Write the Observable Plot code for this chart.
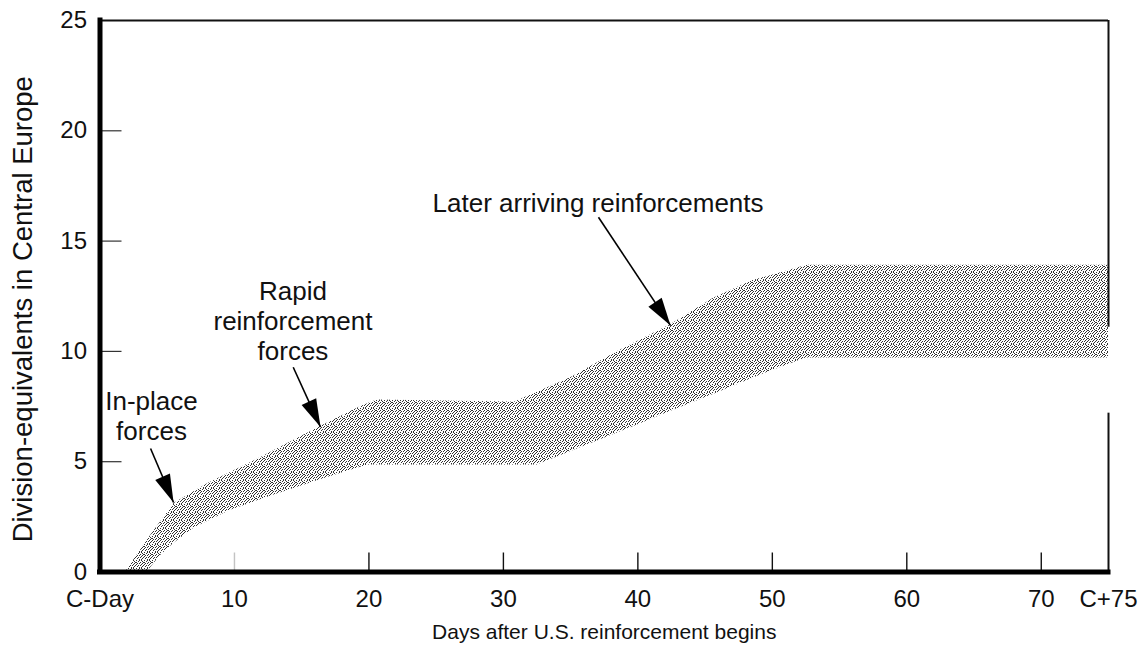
<!DOCTYPE html>
<html>
<head>
<meta charset="utf-8">
<script src="https://cdn.jsdelivr.net/npm/d3@7"></script>
<script src="https://cdn.jsdelivr.net/npm/@observablehq/plot@0.6"></script>
<style>
  html, body { margin: 0; padding: 0; background: #fff; }
  #chart { width: 1148px; height: 658px; }
</style>
</head>
<body>
<div id="chart"></div>
<script>
// ---------- data ----------
const xTickValues = [0, 10, 20, 30, 40, 50, 60, 70, 75];
const xTickLabels = ["C-Day", "10", "20", "30", "40", "50", "60", "70", "C+75"];
const yTickValues = [0, 5, 10, 15, 20, 25];

// upper edge of the force band (day, division-equivalents)
const upperDay = [1.9, 3.7, 5.5, 8, 12, 16.4, 19.4, 20.6, 30.8, 35, 38.5, 42.4, 45.6, 48.5, 52.6, 75];
const upperDiv = [0, 1.6, 3.1, 4.0, 5.2, 6.6, 7.5, 7.8, 7.7, 8.8, 10.0, 11.2, 12.4, 13.2, 13.9, 13.9];
// lower edge of the force band
const lowerDay = [3.5, 4.5, 5.5, 7, 9.7, 13, 16.5, 19.9, 32.5, 36, 39.5, 42.5, 45.6, 49, 52.5, 75];
const lowerDiv = [0, 0.75, 1.3, 2.0, 2.8, 3.5, 4.2, 4.85, 4.85, 5.7, 6.55, 7.3, 8.05, 8.9, 9.7, 9.7];

const annotationText = ["In-place\nforces", "Rapid\nreinforcement\nforces", "Later arriving reinforcements"];
const annotationDay = [3.83, 14.35, 37.04];
const annotationDiv = [7.1, 11.4, 16.76];

const arrowFromDay = [3.76, 14.37, 37.07];
const arrowFromDiv = [5.60, 9.28, 16.08];
const arrowToDay = [5.47, 16.40, 42.43];
const arrowToDiv = [3.15, 6.57, 11.17];

const xTitle = "Days after U.S. reinforcement begins";
const yTitle = "Division-equivalents in Central Europe";

// ---------- layout ----------
const W = 1148, H = 658;
const ML = 99.5, MR = 40, MT = 20, MB = 86.5;
const FONT = "'Liberation Sans', Arial, Helvetica, sans-serif";

const xs = Plot.scale({x: {domain: [0, 75], range: [ML, W - MR]}});
const ys = Plot.scale({y: {domain: [0, 25], range: [H - MB, MT]}});
const tickLenX = xs.invert(ML + 22);
const tickLenY = ys.invert(H - MB - 19);

const bandIdx = upperDay.map((_, i) => i);
const arrowIdx = arrowFromDay.map((_, i) => i);
const annIdx = annotationText.map((_, i) => i);

function headSymbol(i) {
  const dx = xs.apply(arrowToDay[i]) - xs.apply(arrowFromDay[i]);
  const dy = ys.apply(arrowToDiv[i]) - ys.apply(arrowFromDiv[i]);
  const len = Math.hypot(dx, dy);
  const ux = dx / len, uy = dy / len;
  const L = 28, hw = 8;
  return {
    draw(ctx) {
      const bx = -L * ux, by = -L * uy;
      ctx.moveTo(0, 0);
      ctx.lineTo(bx - hw * uy, by + hw * ux);
      ctx.lineTo(bx + hw * uy, by - hw * ux);
      ctx.closePath();
    }
  };
}

const marks = [
  Plot.area(bandIdx, {
    x1: i => lowerDay[i], y1: i => lowerDiv[i],
    x2: i => upperDay[i], y2: i => upperDiv[i],
    fill: "url(#stipple)", stroke: "none"
  }),
  // inward ticks
  Plot.ruleY(yTickValues.filter(v => v > 0 && v < 25), {x1: 0, x2: tickLenX, stroke: "#333", strokeWidth: 1.2}),
  Plot.ruleX(xTickValues.filter(v => v > 0 && v < 75), {
    y1: 0, y2: tickLenY, stroke: "#111", strokeWidth: 1.4,
    strokeOpacity: d => d === 10 ? 0.25 : 1
  }),
  // frame
  Plot.ruleY([25], {x1: 0, x2: 75, stroke: "#111", strokeWidth: 2}),
  Plot.ruleX([75], {y1: 11.1, y2: 25, stroke: "#111", strokeWidth: 2}),
  Plot.ruleX([75], {y1: 0, y2: 7.2, stroke: "#111", strokeWidth: 2}),
  Plot.ruleX([0], {y1: 0, y2: 25, stroke: "#000", strokeWidth: 5, strokeLinecap: "square"}),
  Plot.ruleY([0], {x1: 0, x2: 75, stroke: "#000", strokeWidth: 5, strokeLinecap: "square"}),
  // tick labels
  Plot.text(xTickValues, {x: d => d, y: 0, dy: 27, text: (d, i) => xTickLabels[i], fontSize: 24, fill: "#111"}),
  Plot.text(yTickValues, {x: 0, y: d => d, dx: -13, textAnchor: "end", text: d => String(d), fontSize: 24, fill: "#111"}),
  // titles
  Plot.text([xTitle], {frameAnchor: "bottom", lineAnchor: "middle", textAnchor: "middle", dy: 60.5, text: d => d, fontSize: 21, fill: "#111"}),
  Plot.text([yTitle], {frameAnchor: "left", lineAnchor: "middle", textAnchor: "middle", rotate: -90, dx: -76.5, dy: 13, text: d => d, fontSize: 27.5, fill: "#111"}),
  // annotations
  Plot.text(annIdx, {x: i => annotationDay[i], y: i => annotationDiv[i], text: i => annotationText[i], fontSize: 26, lineHeight: 1.15, fill: "#111"}),
  Plot.link(arrowIdx, {x1: i => arrowFromDay[i], y1: i => arrowFromDiv[i], x2: i => arrowToDay[i], y2: i => arrowToDiv[i], stroke: "#000", strokeWidth: 1.6}),
  ...arrowIdx.map(i => Plot.dot([i], {x: j => arrowToDay[j], y: j => arrowToDiv[j], symbol: headSymbol(i), r: 5, fill: "#000", stroke: "none"}))
];

const svg = Plot.plot({
  width: W, height: H,
  marginLeft: ML, marginRight: MR, marginTop: MT, marginBottom: MB,
  x: {domain: [0, 75], axis: null},
  y: {domain: [0, 25], axis: null},
  style: {fontFamily: FONT, background: "#fff", overflow: "visible"},
  marks
});

// stipple pattern for the band
const stippleDots = [
  [0, 0], [3, 0], [5, 0],
  [2, 1], [6, 1],
  [0, 2], [4, 2], [7, 2],
  [1, 3], [3, 3], [6, 3],
  [0, 4], [5, 4],
  [2, 5], [4, 5], [7, 5],
  [1, 6], [6, 6],
  [3, 7], [5, 7]
];
const defs = d3.select(svg).insert("defs", ":first-child");
const pat = defs.append("pattern")
  .attr("id", "stipple")
  .attr("patternUnits", "userSpaceOnUse")
  .attr("width", 8).attr("height", 8);
pat.append("rect").attr("width", 8).attr("height", 8).attr("fill", "#fff");
stippleDots.forEach(([px, py]) =>
  pat.append("rect").attr("x", px).attr("y", py).attr("width", 1).attr("height", 1).attr("fill", "#333"));

document.getElementById("chart").appendChild(svg);
</script>
</body>
</html>
